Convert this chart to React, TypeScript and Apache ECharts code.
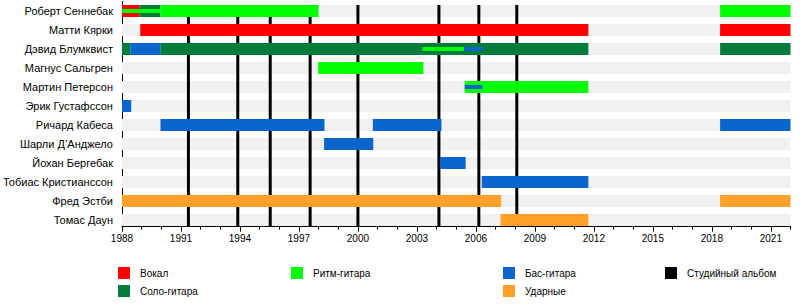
import React, { useEffect, useRef } from "react";
import * as echarts from "echarts";

const MEMBERS = [
  "Роберт Сеннебак",
  "Матти Кярки",
  "Дэвид Блумквист",
  "Магнус Сальгрен",
  "Мартин Петерсон",
  "Эрик Густафссон",
  "Ричард Кабеса",
  "Шарли Д’Анджело",
  "Йохан Бергебак",
  "Тобиас Кристианссон",
  "Фред Эстби",
  "Томас Даун",
];

const YEAR_MIN = 1988;
const YEAR_MAX = 2022;
const LABEL_STEP = 3;

// [memberIndex, startYear, endYear]
const VOCALS: [number, number, number][] = [
  [0, 1988, 1988.9],
  [1, 1988.93, 2011.72],
  [1, 2018.42, 2022],
];
const LEAD_GUITAR: [number, number, number][] = [
  [0, 1988.9, 1989.95],
  [2, 1988, 1988.42],
  [2, 1989.95, 2011.72],
  [2, 2018.42, 2022],
];
const RHYTHM_GUITAR: [number, number, number][] = [
  [0, 1989.95, 1998.0],
  [0, 2018.42, 2022],
  [3, 1997.98, 2003.33],
  [4, 2005.43, 2011.72],
];
const BASS: [number, number, number][] = [
  [2, 1988.42, 1989.95],
  [5, 1988, 1988.47],
  [6, 1989.96, 1998.3],
  [6, 2000.76, 2004.25],
  [6, 2018.42, 2022],
  [7, 1998.28, 2000.78],
  [8, 2004.17, 2005.48],
  [9, 2006.3, 2011.72],
];
const DRUMS: [number, number, number][] = [
  [10, 1988, 2007.28],
  [10, 2018.42, 2022],
  [11, 2007.25, 2011.72],
];
// thin secondary-role stripes
const RHYTHM_STRIPES: [number, number, number][] = [
  [0, 1988, 1989.95],
  [2, 2003.28, 2005.39],
];
const BASS_STRIPES: [number, number, number][] = [
  [2, 2005.39, 2006.33],
  [4, 2005.43, 2006.33],
];
const ALBUMS = [1991.38, 1993.89, 1995.54, 1997.57, 2000.0, 2004.12, 2006.15, 2008.08];

const COLORS = {
  vocals: "#ff0000",
  lead: "#047c3c",
  rhythm: "#00ff00",
  bass: "#0a66cc",
  drums: "#ffa12b",
  album: "#000000",
  bg: "#f1f1f1",
};

const FONT = "'Liberation Sans', Arial, sans-serif";
const BAR_RATIO = 12 / 19;
const STRIPE_RATIO = 4 / 19;

function toData(arr: [number, number, number][]) {
  return arr.map(([m, s, e]) => [s - YEAR_MIN, m, e - YEAR_MIN]);
}

function rectRenderer(color: string, ratio: number) {
  return (params: any, api: any) => {
    const row = api.value(1);
    const s = api.coord([api.value(0), row]);
    const e = api.coord([api.value(2), row]);
    const h = api.size([0, 1])[1] * ratio;
    return {
      type: "rect",
      shape: { x: s[0], y: s[1] - h / 2, width: e[0] - s[0], height: h },
      style: { fill: color },
    };
  };
}

function roleSeries(name: string, color: string, arr: [number, number, number][], ratio: number, z: number) {
  return {
    type: "custom",
    name,
    renderItem: rectRenderer(color, ratio),
    itemStyle: { color },
    encode: { x: [0, 2], y: 1 },
    data: toData(arr),
    z,
    silent: true,
  };
}

export default function App() {
  const ref = useRef<HTMLDivElement>(null);
  useEffect(() => {
    if (!ref.current) return;
    const chart = echarts.init(ref.current, undefined, { renderer: "svg" });
    const span = YEAR_MAX - YEAR_MIN;
    const legendCommon = {
      icon: "rect",
      itemWidth: 12,
      itemHeight: 12,
      padding: 0,
      orient: "vertical",
      itemGap: 6,
      selectedMode: false,
      textStyle: { fontSize: 10, color: "#000", fontFamily: FONT, padding: [0, 0, 0, 5] },
    };
    chart.setOption({
      animation: false,
      backgroundColor: "#ffffff",
      grid: { left: 119.5, right: 9.5, top: 1.5, height: 228 },
      xAxis: [
        {
          type: "value",
          min: 0,
          max: span,
          interval: LABEL_STEP,
          offset: -2.8,
          axisLine: { show: true, lineStyle: { color: "#000", width: 1 } },
          axisTick: { show: true, length: 5, lineStyle: { color: "#000" } },
          axisLabel: {
            formatter: (v: number) => String(v + YEAR_MIN),
            fontSize: 10,
            color: "#000",
            margin: 7,
            fontFamily: FONT,
            showMaxLabel: false,
          },
          splitLine: { show: false },
        },
        {
          type: "value",
          min: 0,
          max: span,
          interval: 1,
          offset: -2.8,
          position: "bottom",
          axisLine: { show: false },
          axisTick: { show: true, length: 3, lineStyle: { color: "#000" } },
          axisLabel: { show: false },
          splitLine: { show: false },
        },
      ],
      yAxis: {
        type: "category",
        inverse: true,
        data: MEMBERS,
        axisLine: { show: true, lineStyle: { color: "#000", width: 1 } },
        axisTick: { show: false },
        axisLabel: { fontSize: 11, color: "#000", margin: 9, fontFamily: FONT },
        splitLine: { show: false },
      },
      legend: [
        { ...legendCommon, left: 118, top: 267, data: ["Вокал", "Соло-гитара"] },
        { ...legendCommon, left: 291, top: 267, data: ["Ритм-гитара"] },
        { ...legendCommon, left: 503, top: 267, data: ["Бас-гитара", "Ударные"] },
        { ...legendCommon, left: 665, top: 267, data: ["Студийный альбом"] },
      ],
      series: [
        {
          type: "custom",
          name: "bg",
          renderItem: rectRenderer(COLORS.bg, BAR_RATIO),
          encode: { x: [0, 2], y: 1 },
          data: MEMBERS.map((_, i) => [0, i, span]),
          z: 1,
          silent: true,
        },
        {
          type: "custom",
          name: "Студийный альбом",
          itemStyle: { color: COLORS.album },
          renderItem: (params: any, api: any) => {
            const x = api.value(0);
            const band = api.size([0, 1])[1];
            const top = api.coord([x, 0]);
            const bottom = api.coord([x, MEMBERS.length - 1]);
            return {
              type: "line",
              shape: { x1: top[0], y1: top[1] - (band * BAR_RATIO) / 2, x2: bottom[0], y2: bottom[1] + band * 0.35 },
              style: { stroke: COLORS.album, lineWidth: 3 },
            };
          },
          encode: { x: 0 },
          data: ALBUMS.map((y) => [y - YEAR_MIN]),
          z: 2,
          silent: true,
        },
        roleSeries("Вокал", COLORS.vocals, VOCALS, BAR_RATIO, 3),
        roleSeries("Соло-гитара", COLORS.lead, LEAD_GUITAR, BAR_RATIO, 3),
        roleSeries("Ритм-гитара", COLORS.rhythm, RHYTHM_GUITAR, BAR_RATIO, 3),
        roleSeries("Бас-гитара", COLORS.bass, BASS, BAR_RATIO, 3),
        roleSeries("Ударные", COLORS.drums, DRUMS, BAR_RATIO, 3),
        { ...roleSeries("Ритм-гитара", COLORS.rhythm, RHYTHM_STRIPES, STRIPE_RATIO, 4) },
        { ...roleSeries("Бас-гитара", COLORS.bass, BASS_STRIPES, STRIPE_RATIO, 4) },
      ],
    });
    return () => chart.dispose();
  }, []);
  return (
    <div
      ref={ref}
      style={{ position: "fixed", left: 0, top: 0, width: 800, height: 305, background: "#fff" }}
    />
  );
}
